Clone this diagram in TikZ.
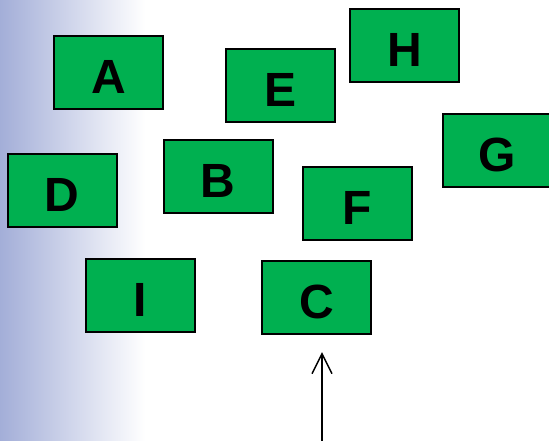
\documentclass[tikz,border=0pt]{standalone}
\usepackage{fontspec}
\setmainfont{Liberation Sans}
\usetikzlibrary{arrows.meta}
\definecolor{boxgreen}{HTML}{00B050}
\definecolor{sideblue}{HTML}{A3AED8}
\tikzset{
  card/.style={draw=black, line width=2pt, fill=boxgreen,
    minimum width=109pt, minimum height=73pt, inner sep=0pt,
    text height=42pt, text depth=0pt,
    font=\fontsize{48}{48}\selectfont\bfseries, text=black},
  pointer/.style={line width=1.5pt, -{Straight Barb[length=20pt,width=20pt,line width=1.5pt]}}
}
\begin{document}
\begin{tikzpicture}[x=1pt, y=-1pt]
  \useasboundingbox (0,0) rectangle (549,440);
  \begin{scope}
    \clip (0,0) rectangle (549,440);
    % soft blue band along the left edge
    \shade[left color=sideblue, right color=white] (0,0) rectangle (145,440);
    \fill[white] (145,0) rectangle (549,440);

    \node[card] (A) at (108.5,72.5) {A};
    \node[card] (E) at (280.5,85) {E};
    \node[card] (H) at (404.5,45.5) {H};
    \node[card] (G) at (497.5,150.5) {G};
    \node[card] (D) at (62,190) {D};
    \node[card] (B) at (218,176.5) {B};
    \node[card] (F) at (357.5,203.5) {F};
    \node[card] (I) at (140,295.5) {I};
    \node[card] (C) at (316.5,297) {C};

    \coordinate (tail) at (322,442);
    \coordinate (tip) at (322,352);
    \draw[pointer] (tail) -- (tip);
  \end{scope}
\end{tikzpicture}
\end{document}
